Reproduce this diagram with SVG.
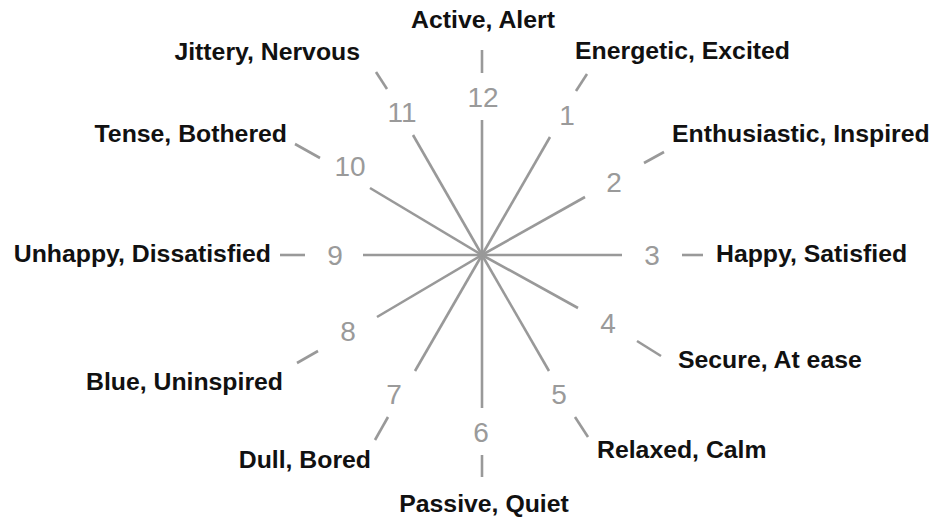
<svg xmlns="http://www.w3.org/2000/svg" width="935" height="519" viewBox="0 0 935 519">
<style>
.sp{stroke:#999;stroke-width:2.6;stroke-linecap:butt;fill:none}
.n{font-family:"Liberation Sans",Arial,sans-serif;font-size:28px;fill:#9a9a9a;text-anchor:middle}
.l{font-family:"Liberation Sans",Arial,sans-serif;font-size:24.8px;font-weight:bold;fill:#111}
</style>
<rect width="935" height="519" fill="#fff"/>
<g id="connectors">
<line class="sp" x1="482" y1="255" x2="482" y2="120"/>
<line class="sp" x1="482" y1="50" x2="482" y2="73"/>
<line class="sp" x1="482" y1="255" x2="550" y2="137"/>
<line class="sp" x1="576" y1="91" x2="587" y2="74"/>
<line class="sp" x1="482" y1="255" x2="585" y2="197"/>
<line class="sp" x1="644" y1="163" x2="664" y2="152"/>
<line class="sp" x1="482" y1="255" x2="622" y2="255"/>
<line class="sp" x1="682" y1="255" x2="703" y2="255"/>
<line class="sp" x1="482" y1="255" x2="578" y2="308"/>
<line class="sp" x1="637" y1="341" x2="661" y2="356"/>
<line class="sp" x1="482" y1="255" x2="549" y2="371"/>
<line class="sp" x1="575" y1="417" x2="588" y2="437"/>
<line class="sp" x1="482" y1="255" x2="482" y2="408"/>
<line class="sp" x1="482" y1="455" x2="482" y2="477"/>
<line class="sp" x1="482" y1="255" x2="415" y2="371"/>
<line class="sp" x1="388" y1="417" x2="375" y2="440"/>
<line class="sp" x1="482" y1="255" x2="377" y2="317"/>
<line class="sp" x1="318" y1="351" x2="297" y2="363"/>
<line class="sp" x1="482" y1="255" x2="363" y2="255"/>
<line class="sp" x1="280" y1="255" x2="305" y2="255"/>
<line class="sp" x1="482" y1="255" x2="370" y2="188"/>
<line class="sp" x1="320" y1="158" x2="295" y2="144"/>
<line class="sp" x1="482" y1="255" x2="413" y2="135"/>
<line class="sp" x1="387" y1="89" x2="376" y2="72"/>
</g>
<g id="n12"><text class="n" x="483" y="107">12</text><text class="l" x="483" y="28" text-anchor="middle">Active, Alert</text></g>
<g id="n1"><text class="n" x="567" y="125">1</text><text class="l" x="575" y="59">Energetic, Excited</text></g>
<g id="n2"><text class="n" x="614" y="192">2</text><text class="l" x="672" y="142">Enthusiastic, Inspired</text></g>
<g id="n3"><text class="n" x="652" y="265">3</text><text class="l" x="716" y="262">Happy, Satisfied</text></g>
<g id="n4"><text class="n" x="608" y="333">4</text><text class="l" x="678" y="368">Secure, At ease</text></g>
<g id="n5"><text class="n" x="559" y="404">5</text><text class="l" x="597" y="458">Relaxed, Calm</text></g>
<g id="n6"><text class="n" x="481" y="442">6</text><text class="l" x="484" y="512" text-anchor="middle">Passive, Quiet</text></g>
<g id="n7"><text class="n" x="394" y="404">7</text><text class="l" x="371" y="468" text-anchor="end">Dull, Bored</text></g>
<g id="n8"><text class="n" x="348" y="341">8</text><text class="l" x="283" y="390" text-anchor="end">Blue, Uninspired</text></g>
<g id="n9"><text class="n" x="335" y="265">9</text><text class="l" x="271" y="262" text-anchor="end">Unhappy, Dissatisfied</text></g>
<g id="n10"><text class="n" x="350" y="176">10</text><text class="l" x="287" y="142" text-anchor="end">Tense, Bothered</text></g>
<g id="n11"><text class="n" x="402" y="122">11</text><text class="l" x="360" y="60" text-anchor="end">Jittery, Nervous</text></g>
</svg>
